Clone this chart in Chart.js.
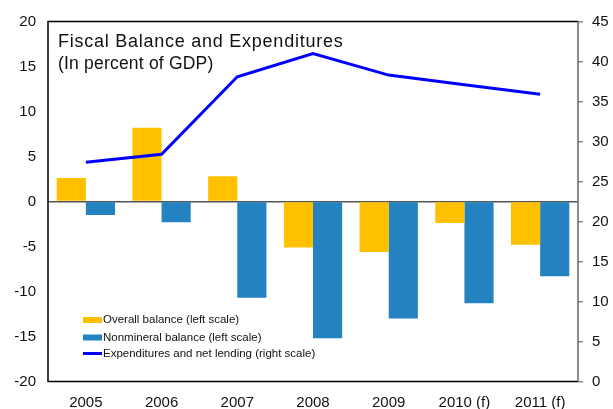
<!DOCTYPE html>
<html>
<head>
<meta charset="utf-8">
<script src="https://cdn.jsdelivr.net/npm/chart.js@4.4.1/dist/chart.umd.min.js"></script>
<style>
  html, body { margin: 0; padding: 0; background: #fff; }
  #wrap { width: 613px; height: 409px; }
</style>
</head>
<body>
<div id="wrap"><canvas id="fiscalChart" width="613" height="409"></canvas></div>
<script>
// Chart data
const years = ['2005', '2006', '2007', '2008', '2009', '2010 (f)', '2011 (f)'];
const overallBalance = [2.6, 8.2, 2.8, -5.1, -5.6, -2.4, -4.8];
const nonmineralBalance = [-1.5, -2.3, -10.7, -15.2, -13.0, -11.3, -8.3];
const expenditures = [27.4, 28.4, 38.1, 41.0, 38.3, 37.1, 35.9];

const titleLines = ['Fiscal Balance and Expenditures', '(In percent of GDP)'];
const legendLabels = [
    'Overall balance (left scale)',
    'Nonmineral balance (left scale)',
    'Expenditures and net lending (right scale)'
];

const fontFamily = '"Liberation Sans", Arial, sans-serif';
const yellow = '#FFC000';
const blue = '#2582C1';
const lineBlue = '#0000FF';

// Title, frame and legend drawn on top of the plot area
const decorPlugin = {
    id: 'decor',
    afterDraw(chart) {
        const ctx = chart.ctx;
        const area = chart.chartArea;
        ctx.save();

        // frame
        ctx.strokeStyle = '#000';
        ctx.lineWidth = 1.5;
        ctx.beginPath();
        ctx.moveTo(area.right, area.top);
        ctx.lineTo(area.left, area.top);
        ctx.lineTo(area.left, area.bottom);
        ctx.lineTo(area.right, area.bottom);
        ctx.stroke();
        ctx.strokeStyle = '#666';
        ctx.lineWidth = 1.5;
        ctx.beginPath();
        ctx.moveTo(area.right, area.top);
        ctx.lineTo(area.right, area.bottom);
        ctx.stroke();

        // title
        ctx.fillStyle = '#111';
        ctx.textBaseline = 'alphabetic';
        ctx.textAlign = 'left';
        ctx.font = '18px ' + fontFamily;
        ctx.letterSpacing = '0.75px';
        ctx.fillText(titleLines[0], area.left + 10, area.top + 25);
        ctx.font = '17.5px ' + fontFamily;
        ctx.letterSpacing = '0.2px';
        ctx.fillText(titleLines[1], area.left + 10, area.top + 47);
        ctx.letterSpacing = '0px';

        // legend
        const lx = area.left + 35;
        const rows = [area.top + 298.5, area.top + 316, area.top + 332];
        ctx.font = '11.5px ' + fontFamily;
        ctx.textBaseline = 'middle';
        ctx.fillStyle = yellow;
        ctx.fillRect(lx, rows[0] - 3, 19, 6);
        ctx.fillStyle = blue;
        ctx.fillRect(lx, rows[1] - 3, 19, 6);
        ctx.strokeStyle = lineBlue;
        ctx.lineWidth = 3;
        ctx.beginPath();
        ctx.moveTo(lx, rows[2]);
        ctx.lineTo(lx + 19, rows[2]);
        ctx.stroke();
        ctx.fillStyle = '#111';
        legendLabels.forEach((label, i) => {
            ctx.fillText(label, lx + 20, rows[i]);
        });

        ctx.restore();
    }
};

const ctx = document.getElementById('fiscalChart').getContext('2d');
const fiscalChart = new Chart(ctx, {
    data: {
        labels: years,
        datasets: [
            {
                type: 'line',
                label: legendLabels[2],
                data: expenditures,
                yAxisID: 'yRight',
                borderColor: lineBlue,
                backgroundColor: lineBlue,
                borderWidth: 3,
                pointRadius: 0,
                tension: 0,
                order: 0
            },
            {
                type: 'bar',
                label: legendLabels[0],
                data: overallBalance,
                yAxisID: 'yLeft',
                backgroundColor: yellow,
                categoryPercentage: 0.77,
                barPercentage: 1.0,
                order: 1
            },
            {
                type: 'bar',
                label: legendLabels[1],
                data: nonmineralBalance,
                yAxisID: 'yLeft',
                backgroundColor: blue,
                categoryPercentage: 0.77,
                barPercentage: 1.0,
                order: 1
            }
        ]
    },
    options: {
        responsive: false,
        animation: false,
        layout: {
            padding: { top: 21.5, left: 0, right: 0, bottom: 0 }
        },
        plugins: {
            legend: { display: false },
            tooltip: { enabled: false },
            title: { display: false }
        },
        scales: {
            x: {
                grid: { display: false },
                border: { display: false },
                ticks: {
                    color: '#111',
                    font: { family: fontFamily, size: 15 },
                    maxRotation: 0,
                    padding: 4
                },
                afterFit(scale) { scale.height = 27.5; }
            },
            yLeft: {
                position: 'left',
                min: -20,
                max: 20,
                ticks: {
                    stepSize: 5,
                    color: '#111',
                    font: { family: fontFamily, size: 15 },
                    padding: 12
                },
                grid: {
                    drawTicks: false,
                    color: (c) => c.tick && c.tick.value === 0 ? '#555' : 'transparent',
                    lineWidth: 1.5
                },
                border: { display: false },
                afterFit(scale) { scale.width = 48; }
            },
            yRight: {
                position: 'right',
                min: 0,
                max: 45,
                ticks: {
                    stepSize: 5,
                    color: '#111',
                    font: { family: fontFamily, size: 15 },
                    padding: 9
                },
                grid: {
                    drawOnChartArea: false,
                    drawTicks: true,
                    tickLength: 5,
                    color: '#888',
                    lineWidth: 1.5
                },
                border: { display: false },
                afterFit(scale) { scale.width = 35; }
            }
        }
    },
    plugins: [decorPlugin]
});
</script>
</body>
</html>
